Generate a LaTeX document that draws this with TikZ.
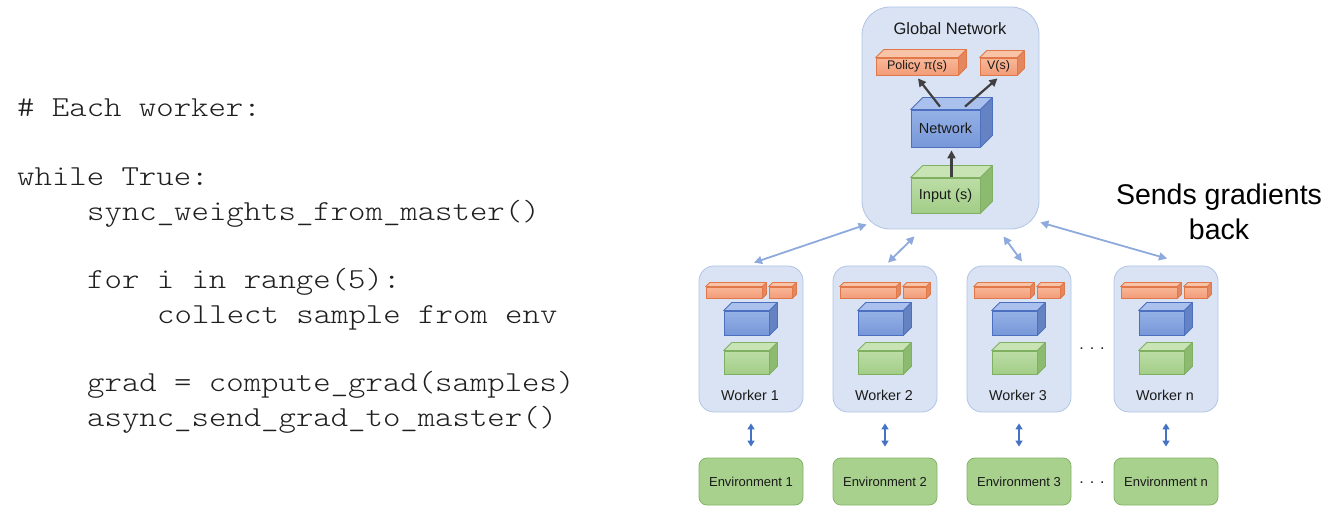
\documentclass[tikz,border=0pt]{standalone}
\usepackage{fontspec}
\setmainfont{Liberation Sans}
\newfontfamily\codefont{lmmonolt10-regular.otf}[FakeStretch=1.143]
\usetikzlibrary{arrows.meta}

\definecolor{contF}{HTML}{DAE3F3}
\definecolor{contD}{HTML}{AFC4E6}
\definecolor{OrL}{HTML}{F8B898}
\definecolor{OrF}{HTML}{F29C78}
\definecolor{OrT}{HTML}{F9C3A7}
\definecolor{OrS}{HTML}{E4875F}
\definecolor{OrD}{HTML}{E0784A}
\definecolor{BlL}{HTML}{95B1E6}
\definecolor{BlF}{HTML}{7797D8}
\definecolor{BlT}{HTML}{A9C1EC}
\definecolor{BlS}{HTML}{6583C3}
\definecolor{BlD}{HTML}{4D6FBF}
\definecolor{GrL}{HTML}{BCDDA6}
\definecolor{GrF}{HTML}{A2CD87}
\definecolor{GrT}{HTML}{C8E4B5}
\definecolor{GrS}{HTML}{8CBB70}
\definecolor{GrD}{HTML}{7FB062}
\definecolor{envF}{HTML}{A9D18E}
\definecolor{envD}{HTML}{82B366}
\definecolor{linkC}{HTML}{8EA9DB}
\definecolor{envA}{HTML}{4472C4}
\definecolor{darkA}{HTML}{404040}
\definecolor{codeC}{HTML}{1F1F1F}
\definecolor{txtC}{HTML}{1A1A1A}

\tikzset{
  code/.style={font=\codefont\fontsize{29}{34}\selectfont, text=codeC, inner sep=0pt, anchor=base west},
  cubefront/.style={rectangle, inner sep=0pt, line width=0.8pt, text=txtC},
  cubeside/.style={line width=0.8pt, line join=round},
  container/.style={rectangle, rounded corners=#1, draw=contD, fill=contF, line width=0.8pt, inner sep=0pt},
  wlabel/.style={font=\fontsize{14.3}{17}\selectfont, text=txtC, inner sep=0pt},
  envbox/.style={rectangle, rounded corners=8pt, draw=envD, fill=envF, line width=0.8pt,
    minimum width=104pt, minimum height=47pt, inner sep=0pt, font=\fontsize{13}{15}\selectfont, text=txtC},
  linkarrow/.style={draw=linkC, line width=1.8pt, {Triangle[length=8pt,width=8pt]}-{Triangle[length=8pt,width=8pt]}},
  envarrow/.style={draw=envA, line width=2.2pt, {Triangle[length=6pt,width=7pt]}-{Triangle[length=6pt,width=7pt]}},
  darkarrow/.style={draw=darkA, line width=2.2pt, -{Triangle[length=8pt,width=8pt]}},
  dotsnode/.style={font=\fontsize{16}{18}\selectfont, text=txtC, inner sep=0pt},
}

% name, x1, y1, x2, y2, depth, colour prefix, text, font size
\newcommand\cubebox[9]{%
  \node[cubefront, draw=#7D, top color=#7L, bottom color=#7F,
        minimum width={((#4)-(#2))*1pt}, minimum height={((#5)-(#3))*1pt},
        font=\fontsize{#9}{#9}\selectfont]
        (#1) at ({((#2)+(#4))/2},{((#3)+(#5))/2}) {#8};
  \draw[cubeside, draw=#7D, fill=#7T] (#1.north west) -- ([shift={(#6,-#6)}]#1.north west)
     -- ([shift={(#6,-#6)}]#1.north east) -- (#1.north east) -- cycle;
  \draw[cubeside, draw=#7D, fill=#7S] (#1.north east) -- ([shift={(#6,-#6)}]#1.north east)
     -- ([shift={(#6,-#6)}]#1.south east) -- (#1.south east) -- cycle;
}

% id, left x, label
\newcommand\workerunit[3]{%
  \node[container=15pt, minimum width=104pt, minimum height=146pt] (w#1) at ({#2+52},339) {};
  \cubebox{w#1o}{#2+7}{287}{#2+63}{298}{4}{Or}{}{10}
  \cubebox{w#1v}{#2+70}{287}{#2+93}{298}{4}{Or}{}{10}
  \cubebox{w#1n}{#2+25}{311}{#2+70}{335}{8}{Bl}{}{10}
  \cubebox{w#1i}{#2+25}{351}{#2+70}{374}{8}{Gr}{}{10}
  \node[wlabel] (w#1l) at ({#2+51},395) {#3};
}

\begin{document}
\begin{tikzpicture}[x=1pt,y=-1pt]
\useasboundingbox (0,0) rectangle (1339,510);

% code
\node[code] (c1) at (17,117) {\# Each worker:};
\node[code] (c2) at (17,186) {while True:};
\node[code] (c3) at (87,221) {sync\_weights\_from\_master()};
\node[code] (c4) at (87,289) {for i in range(5):};
\node[code] (c5) at (157,324) {collect sample from env};
\node[code] (c6) at (87,392) {grad = compute\_grad(samples)};
\node[code] (c7) at (87,427) {async\_send\_grad\_to\_master()};

% global network
\node[container=28pt, minimum width=177pt, minimum height=222pt] (glob) at (950.5,118) {};
\node[font=\fontsize{16.5}{19}\selectfont, text=txtC, inner sep=0pt] (globt) at (950,29) {Global Network};
\cubebox{pol}{876}{58}{958}{75}{8}{Or}{Policy π(s)}{12.5}
\cubebox{val}{980}{58}{1017}{75}{7}{Or}{V(s)}{12.5}
\cubebox{net}{911}{110}{980}{147}{12}{Bl}{Network}{14.5}
\cubebox{inp}{911}{178}{980}{213}{12}{Gr}{Input (s)}{14.5}

\draw[darkarrow] ([shift={(-5.5,-3)}]net.north) -- ([shift={(1,3)}]pol.south);
\draw[darkarrow] ([shift={(19.5,-3)}]net.north) -- ([shift={(-1,3)}]val.south);
\draw[darkarrow] ([shift={(6,-1)}]inp.north) -- ([shift={(6,3)}]net.south);

% workers
\workerunit{1}{699}{Worker 1}
\workerunit{2}{833}{Worker 2}
\workerunit{3}{967}{Worker 3}
\workerunit{4}{1114}{Worker n}
\node[dotsnode] (wdots) at (1092,349) {. . .};

% environments
\node[envbox] (e1) at (751,481.5) {Environment 1};
\node[envbox] (e2) at (885,481.5) {Environment 2};
\node[envbox] (e3) at (1019,481.5) {Environment 3};
\node[envbox] (e4) at (1166,481.5) {Environment n};
\node[dotsnode] (edots) at (1092,483) {. . .};

\foreach \k in {1,2,3,4}{
  \draw[envarrow] ([shift={(0,11)}]w\k.south) -- ([shift={(0,-11)}]e\k.north);
}

% links global <-> workers
\draw[linkarrow] ([shift={(5,-5)}]glob.south west) -- ([shift={(3,-3)}]w1.north);
\draw[linkarrow] ([shift={(-36,7)}]glob.south) -- ([shift={(3,-3)}]w2.north);
\draw[linkarrow] ([shift={(53,7)}]glob.south) -- ([shift={(3,-4)}]w3.north);
\draw[linkarrow] ([shift={(1,-7)}]glob.south east) -- ([shift={(1,-7)}]w4.north);

% annotation
\node[font=\fontsize{28.5}{34}\selectfont, inner sep=0pt, anchor=base] (sg1) at (1219,205) {Sends gradients};
\node[font=\fontsize{28.5}{34}\selectfont, inner sep=0pt, anchor=base] (sg2) at (1219,240) {back};
\end{tikzpicture}
\end{document}
